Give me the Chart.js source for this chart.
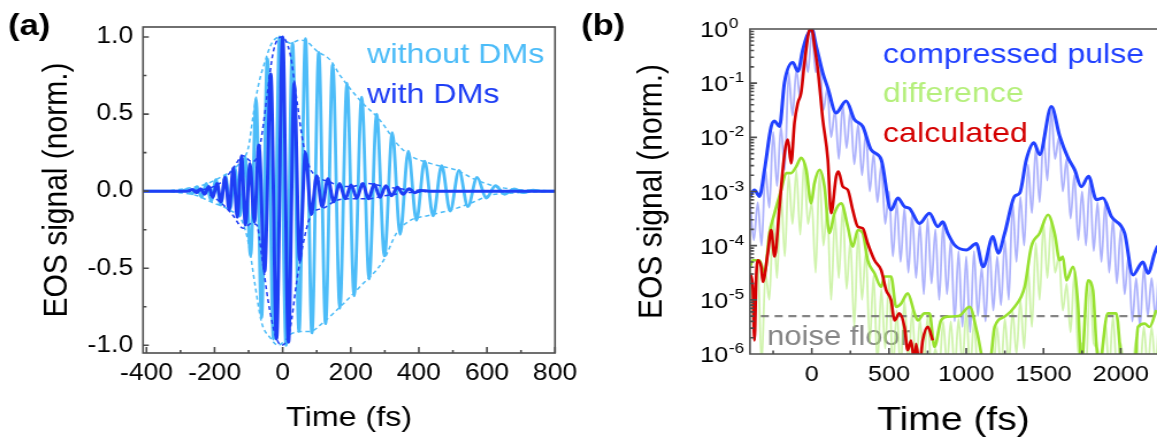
<!DOCTYPE html>
<html>
<head>
<meta charset="utf-8">
<title>EOS signal</title>
<script src="https://cdn.jsdelivr.net/npm/chart.js@4.4.1/dist/chart.umd.min.js"></script>
<style>
  html, body { margin: 0; padding: 0; background: #fff; }
  body { width: 1157px; height: 443px; position: relative; overflow: hidden; }
</style>
</head>
<body>
<canvas id="chartA" width="504" height="443" style="position:absolute;left:0;top:0;width:580px;height:443px"></canvas>
<canvas id="chartB" width="502" height="443" style="position:absolute;left:580px;top:0;width:577px;height:443px"></canvas>
<script>
const FONT = "'Liberation Sans', Arial, sans-serif";

// ---------- panel (a) ----------
const timeTicksA = [-400, -200, 0, 200, 400, 600, 800];
const signalTicksA = [-1, -0.5, 0, 0.5, 1];

// without DMs: extrema of the chirped trace
const noDmTime = [-410, -300, -280, -266, -252, -238, -224, -210, -196, -182, -168, -154,
  -140, -125, -110, -94, -78, -62, -45, -27, -9, 10, 29, 48, 67, 86, 106, 126, 147, 168, 189, 210,
  232, 254, 276, 299, 322, 345, 369, 393, 417, 442, 467, 492, 518, 544, 571, 598, 625, 652, 680, 708,
  736, 762, 800];
const noDmSignal = [0, 0, 0.012, -0.018, 0.03, -0.04, 0.05, -0.065, 0.075, -0.09, 0.1, -0.115,
  0.15, -0.16, 0.22, -0.42, 0.6, -0.82, 0.86, -0.96, 1.0, -1.0, 0.96, -0.91, 0.99, -0.92, 0.9, -0.86, 0.82, -0.76, 0.7, -0.68,
  0.61, -0.57, 0.5, -0.42, 0.38, -0.28, 0.26, -0.19, 0.195, -0.16, 0.165, -0.13, 0.135, -0.1, 0.09, -0.045, 0.035, -0.02, 0.015, -0.01,
  0.007, 0, 0];

// without DMs: dashed envelopes
const noDmUpperT = [-330, -250, -220, -200, -175, -150, -135, -120, -101, -86, -71, -52, -32, -7, 22, 51, 71,
  100, 140, 169, 227, 286, 335, 375, 433, 512, 561, 610, 659, 727, 800];
const noDmUpperV = [0.003, 0.03, 0.05, 0.07, 0.1, 0.13, 0.16, 0.2, 0.28, 0.5, 0.69, 0.84, 0.96, 1.0, 0.96, 0.98, 0.97,
  0.91, 0.85, 0.75, 0.59, 0.46, 0.31, 0.23, 0.18, 0.135, 0.08, 0.04, 0.017, 0.006, 0.002];
const noDmLowerT = [-330, -250, -220, -200, -175, -150, -135, -120, -101, -81, -62, -37, -13, 22, 51, 80,
  120, 169, 227, 296, 335, 375, 433, 512, 561, 610, 659, 727, 800];
const noDmLowerV = [-0.003, -0.03, -0.06, -0.08, -0.1, -0.13, -0.15, -0.19, -0.33, -0.61, -0.85, -0.95, -1.0, -0.93, -0.91, -0.91,
  -0.85, -0.75, -0.62, -0.45, -0.27, -0.19, -0.156, -0.11, -0.07, -0.026, -0.015, -0.006, -0.002];

// with DMs: extrema of the compressed trace
const dmTime = [-410, -280, -265, -253, -241, -229, -217, -205, -193, -181, -169, -157,
  -145, -133, -121, -109, -96, -83, -70, -53, -35, -18, 0, 17, 34, 50, 67, 84, 100, 116, 133, 150,
  167, 184, 201, 218, 235, 252, 269, 286, 303, 320, 337, 354, 371, 388, 405, 430, 800];
const dmSignal = [0, 0, 0.01, -0.01, 0.015, -0.02, 0.03, -0.04, 0.05, -0.07, 0.09, -0.12,
  0.15, -0.17, 0.23, -0.22, 0.18, -0.2, 0.3, -0.52, 0.76, -0.96, 1.0, -0.98, 0.7, -0.45, 0.25, -0.15, 0.1, -0.1, 0.08, -0.07,
  0.05, -0.05, 0.04, -0.045, 0.05, -0.05, 0.045, -0.04, 0.035, -0.03, 0.025, -0.02, 0.015, -0.01, 0.005, 0, 0];

// with DMs: dashed envelopes
const dmUpperT = [-260, -214, -174, -145, -116, -90, -72, -60, -47, -27, -3, 22, 41, 61, 80, 100, 139, 170, 200, 247, 300, 364, 420];
const dmUpperV = [0.005, 0.02, 0.07, 0.15, 0.23, 0.19, 0.24, 0.38, 0.6, 0.91, 1.0, 0.89, 0.6, 0.3, 0.15, 0.095, 0.06, 0.03, 0.03, 0.05, 0.03, 0.01, 0.003];
const dmLowerT = [-260, -214, -174, -145, -116, -91, -76, -62, -42, -22, -3, 22, 41, 66, 85, 120, 159, 200, 247, 300, 364, 420];
const dmLowerV = [-0.005, -0.024, -0.09, -0.16, -0.24, -0.21, -0.22, -0.41, -0.72, -0.93, -1.0, -0.89, -0.59, -0.28, -0.15, -0.11, -0.06, -0.05, -0.05, -0.03, -0.01, -0.003];

// ---------- panel (b) ----------
// values are log10 of the normalised signal
const timeTicksB = [0, 500, 1000, 1500, 2000];
const decadeExps = [0, -1, -2, -3, -4, -5, -6];

const pulseT = [-400, -371, -339, -306, -263, -241, -209, -177, -123, -90, -58, -30, 0, 28, 71, 104, 157, 222, 276, 330, 384,
  449, 513, 557, 600, 632, 697, 762, 816, 848, 880, 925, 1001, 1065, 1109, 1173, 1206, 1249, 1313, 1346, 1389,
  1438, 1475, 1551, 1605, 1659, 1702, 1745, 1792, 1842, 1885, 1939, 2025, 2079, 2144, 2176, 2220, 2240];
const pulseLog = [-3.09, -2.97, -3.09, -2.60, -1.80, -1.70, -1.80, -0.99, -0.62, -0.78, -0.38, -0.12, 0, -0.31, -0.81, -1.09, -1.55, -1.33, -1.67, -1.80, -2.23,
  -2.41, -3.34, -3.12, -3.28, -3.31, -3.59, -3.40, -3.65, -3.56, -3.77, -3.99, -4.08, -3.96, -4.39, -3.83, -4.14, -3.77, -3.09, -3.03, -2.41,
  -2.10, -2.32, -1.43, -1.98, -2.38, -2.60, -2.91, -2.72, -3.15, -3.12, -3.46, -3.77, -4.54, -4.30, -4.51, -4.14, -4.0];

const calcT = [-400, -382, -371, -360, -349, -328, -317, -285, -263, -241, -209, -181, -155, -134, -112, -90, -69, -47, -15, 0,
  17, 39, 71, 104, 125, 158, 173, 201, 233, 265, 298, 330, 362, 406, 449, 481, 514, 535, 567, 600,
  621, 643, 665, 675, 697, 718, 751, 783];
const calcLog = [-4.51, -4.76, -5.75, -4.6, -4.27, -4.39, -4.67, -4.14, -3.71, -4.20, -3.28, -2.41, -2.04, -2.48, -1.73, -1.36, -1.18, -0.62, -0.02, 0,
  -0.31, -0.75, -1.67, -2.41, -3.40, -2.72, -2.63, -2.91, -2.97, -3.34, -3.65, -3.68, -3.96, -4.27, -4.45, -4.82, -5.01, -5.38, -5.25, -5.50,
  -5.93, -5.75, -6.2, -5.81, -6.2, -5.75, -5.50, -5.75];

const diffT = [-400, -382, -339, -306, -274, -241, -198, -166, -134, -101, -69, -36, -4, 17, 50, 82, 114, 147, 190, 233,
  265, 298, 330, 362, 406, 449, 470, 513, 546, 578, 621, 665, 686, 729, 762, 794, 837, 880, 950, 1022,
  1070, 1120, 1150, 1184, 1249, 1313, 1378, 1421, 1475, 1529, 1572, 1605, 1625, 1648, 1691, 1723, 1745, 1788, 1820, 1842,
  1860, 1917, 1971, 2010, 2090, 2112, 2155, 2187, 2230];
const diffLog = [-4.39, -4.27, -4.27, -4.51, -3.77, -3.40, -2.97, -2.66, -2.66, -2.54, -2.38, -2.60, -3.22, -2.85, -2.60, -2.91, -3.77, -3.40, -3.22, -3.65,
  -4.02, -3.71, -3.77, -4.27, -4.51, -4.76, -4.57, -4.57, -5.13, -5.07, -4.88, -5.25, -5.38, -5.25, -5.25, -5.87, -5.38, -5.31, -5.3, -5.13,
  -5.6, -6.2, -6.2, -5.50, -5.31, -5.13, -4.76, -4.02, -3.77, -3.43, -3.77, -4.27, -4.20, -4.64, -4.39, -5.07, -6.2, -4.64, -4.82, -5.81,
  -6.2, -5.25, -5.25, -6.2, -6.2, -5.50, -5.44, -5.50, -5.19];

// raw (unsmoothed) traces, alternating fringe tops and dips
const rawT = [-400, -375, -350, -325, -300, -275, -250, -225, -200, -175, -150, -125, -100, -75, -50, -25,
  0, 25, 50, 75, 100, 125, 150, 175, 200, 225, 250, 275, 300, 325, 350, 375, 400, 425, 450, 475,
  500, 525, 550, 575, 600, 625, 650, 675, 700, 725, 750, 775, 800, 825, 850, 875, 900, 925, 950, 975,
  1000, 1025, 1050, 1075, 1100, 1125, 1150, 1175, 1200, 1225, 1250, 1275, 1300, 1325, 1350, 1375, 1400, 1425, 1450, 1475,
  1500, 1525, 1550, 1575, 1600, 1625, 1650, 1675, 1700, 1725, 1750, 1775, 1800, 1825, 1850, 1875, 1900, 1925, 1950, 1975,
  2000, 2025, 2050, 2075, 2100, 2125, 2150, 2175, 2200, 2225, 2250];
const rawPulseLog = [-3.2, -3.9, -3.2, -4.0, -2.6, -3.3, -1.9, -2.9, -1.8, -2.6,
  -0.8, -1.6, -0.75, -1.3, -0.35, -0.8, -0.05, -0.8, -0.6, -1.5,
  -1.1, -2.0, -1.5, -2.4, -1.4, -2.2, -1.5, -2.5, -1.75, -2.7,
  -1.9, -3.0, -2.3, -3.2, -2.5, -3.6, -3.0, -4.2, -3.2, -4.3,
  -3.3, -4.5, -3.4, -4.6, -3.6, -4.9, -3.5, -4.7, -3.7, -5.0,
  -3.6, -4.9, -3.9, -5.4, -4.1, -5.5, -4.2, -5.6, -4.1, -5.3,
  -4.4, -5.4, -4.0, -5.2, -4.2, -5.1, -3.9, -5.0, -3.2, -4.3,
  -3.1, -4.0, -2.5, -3.4, -2.2, -3.2, -2.0, -2.8, -1.5, -2.4,
  -2.0, -3.0, -2.4, -3.5, -2.7, -3.9, -3.0, -4.0, -2.8, -4.1,
  -3.2, -4.3, -3.2, -4.5, -3.5, -4.7, -3.7, -4.9, -4.2, -5.4,
  -4.6, -5.5, -4.4, -5.3, -4.6, -5.3, -4.2];
const rawDiffLog = [-4.4, -5.5, -4.3, -6.2, -4.5, -5.0, -3.5, -4.6, -3.0, -4.2,
  -2.7, -3.6, -2.6, -3.8, -2.45, -3.6, -3.2, -4.5, -2.65, -4.0,
  -3.3, -5.0, -3.45, -4.6, -3.3, -4.8, -3.9, -5.5, -3.75, -5.0,
  -4.1, -5.8, -4.55, -6.2, -4.8, -5.9, -4.6, -6.3, -5.2, -6.3,
  -5.0, -6.2, -5.2, -6.3, -5.35, -6.2, -5.3, -6.3, -5.9, -6.3,
  -5.4, -6.2, -5.4, -6.3, -5.35, -6.2, -5.2, -6.3, -5.4, -6.3,
  -6.1, -6.3, -6.1, -6.3, -5.5, -6.3, -5.35, -6.2, -5.2, -6.0,
  -5.0, -5.9, -4.4, -5.5, -3.95, -5.0, -3.6, -4.6, -3.55, -4.5,
  -4.2, -5.2, -4.7, -5.6, -4.5, -6.0, -5.8, -6.3, -4.7, -5.8,
  -5.9, -6.3, -5.4, -6.3, -5.3, -6.3, -5.8, -6.3, -6.2, -6.3,
  -5.7, -6.3, -5.5, -6.3, -5.5, -6.2, -5.2];

const noiseFloor = 5e-6;
const noiseSpan = [-330, 2235];

// ---------- helpers ----------
const pts = (xs, ys) => xs.map((x, i) => ({ x, y: ys[i] }));
const ptsLog = (xs, es) => xs.map((x, i) => ({ x, y: Math.pow(10, es[i]) }));

const LIGHT = '#4cbcf8';
const DARK = '#1e3ef5';
const BLUE = '#2141ff';
const GREEN = '#97e12f';
const RED = '#d40000';

function line(label, data, color, width, order, dash) {
  return {
    label, data, order,
    borderColor: color, borderWidth: width,
    borderDash: dash || [],
    pointRadius: 0, fill: false,
    cubicInterpolationMode: 'monotone',
    borderJoinStyle: 'round', borderCapStyle: 'butt'
  };
}

function text(ctx, str, x, y, size, color, bold, align) {
  ctx.font = (bold ? 'bold ' : '') + size + 'px ' + FONT;
  ctx.fillStyle = color;
  ctx.textAlign = align || 'left';
  ctx.textBaseline = 'alphabetic';
  ctx.fillText(str, x, y);
}

// ---------- panel (a) decorations ----------
const panelA = {
  id: 'panelA',
  beforeDatasetsDraw(chart) {
    const ctx = chart.ctx;
    ctx.save();
    text(ctx, '(a)', 7, 35, 30, '#000', true);
    text(ctx, 'without DMs', 319, 63, 28, LIGHT);
    text(ctx, 'with DMs', 319, 103, 28, DARK);
    ctx.restore();
  },
  afterDatasetsDraw(chart) {
    const { ctx, chartArea: a, scales: { x, y } } = chart;
    ctx.save();
    ctx.strokeStyle = '#4d4d4d';
    ctx.lineWidth = 1.6;
    ctx.strokeRect(a.left, a.top, a.right - a.left, a.bottom - a.top);
    ctx.beginPath();
    for (let v = -400; v <= 800; v += 100) {
      const px = x.getPixelForValue(v);
      const len = v % 200 === 0 ? 6 : 3;
      ctx.moveTo(px, a.bottom); ctx.lineTo(px, a.bottom - len);
    }
    for (let v = -1; v <= 1.001; v += 0.25) {
      const py = y.getPixelForValue(v);
      const len = Math.abs(v * 2 - Math.round(v * 2)) < 1e-6 ? 5 : 3;
      ctx.moveTo(a.left, py); ctx.lineTo(a.left + len, py);
    }
    ctx.stroke();
    ctx.restore();
  }
};

new Chart(document.getElementById('chartA'), {
  type: 'line',
  data: {
    datasets: [
      line('without DMs', pts(noDmTime, noDmSignal), LIGHT, 2.8, 5),
      line('without DMs upper envelope', pts(noDmUpperT, noDmUpperV), LIGHT, 1.5, 4, [4, 3]),
      line('without DMs lower envelope', pts(noDmLowerT, noDmLowerV), LIGHT, 1.5, 4, [4, 3]),
      line('with DMs', pts(dmTime, dmSignal), DARK, 3, 3),
      line('with DMs upper envelope', pts(dmUpperT, dmUpperV), DARK, 1.5, 2, [4, 3]),
      line('with DMs lower envelope', pts(dmLowerT, dmLowerV), DARK, 1.5, 2, [4, 3])
    ]
  },
  options: {
    responsive: false,
    animation: false,
    devicePixelRatio: 1,
    layout: { padding: { left: 0, right: 21.7, top: 27, bottom: 0 } },
    plugins: { legend: { display: false }, tooltip: { enabled: false } },
    scales: {
      x: {
        type: 'linear', min: -410, max: 800,
        afterBuildTicks: s => { s.ticks = timeTicksA.map(v => ({ value: v })); },
        afterFit: s => { s.height = 90; s.paddingLeft = 0; s.paddingRight = 0; },
        grid: { display: false, drawTicks: false },
        border: { display: false },
        ticks: {
          color: '#000', padding: 7, maxRotation: 0, autoSkip: false,
          font: { family: FONT, size: 23 },
          callback: v => String(v)
        },
        title: {
          display: true, text: 'Time (fs)', color: '#000',
          font: { family: FONT, size: 28 }, padding: { top: 0, bottom: 8 }
        }
      },
      y: {
        type: 'linear', min: -1.05, max: 1.065,
        afterBuildTicks: s => { s.ticks = signalTicksA.map(v => ({ value: v })); },
        afterFit: s => { s.width = 124.3; s.paddingTop = 0; s.paddingBottom = 0; },
        grid: { display: false, drawTicks: false },
        border: { display: false },
        ticks: {
          color: '#000', padding: 8.6, autoSkip: false,
          font: { family: FONT, size: 23 },
          callback: v => v.toFixed(1)
        },
        title: {
          display: true, text: 'EOS signal (norm.)', color: '#000',
          font: { family: FONT, size: 30 }, padding: { top: 31.6, bottom: 0 }
        }
      }
    }
  },
  plugins: [panelA]
});

// ---------- panel (b) decorations ----------
const panelB = {
  id: 'panelB',
  beforeDatasetsDraw(chart) {
    const ctx = chart.ctx;
    ctx.save();
    text(ctx, '(b)', 1, 35, 30, '#000', true);
    text(ctx, 'compressed pulse', 263.6, 63, 28, BLUE);
    text(ctx, 'difference', 263.6, 102, 28, '#b5ef7c');
    text(ctx, 'calculated', 263.6, 142, 28, RED);
    text(ctx, 'noise floor', 162.7, 345, 27, '#858585');
    ctx.restore();
  },
  afterDatasetsDraw(chart) {
    const { ctx, chartArea: a, scales: { x, y } } = chart;
    ctx.save();
    ctx.strokeStyle = '#4d4d4d';
    ctx.lineWidth = 1.6;
    ctx.beginPath();
    ctx.moveTo(a.right, a.top); ctx.lineTo(a.left, a.top);
    ctx.lineTo(a.left, a.bottom); ctx.lineTo(a.right, a.bottom);
    for (let v = -250; v <= 2000; v += 250) {
      const px = x.getPixelForValue(v);
      const len = v % 500 === 0 ? 6 : 3.5;
      ctx.moveTo(px, a.bottom); ctx.lineTo(px, a.bottom - len);
    }
    for (const e of decadeExps) {
      const py = y.getPixelForValue(Math.pow(10, e));
      ctx.moveTo(a.left, py); ctx.lineTo(a.left + 6, py);
      if (e < 0) {
        for (let m = 2; m <= 9; m++) {
          const pm = y.getPixelForValue(m * Math.pow(10, e));
          ctx.moveTo(a.left, pm); ctx.lineTo(a.left + 3.5, pm);
        }
      }
    }
    ctx.stroke();
    // decade labels with superscript exponents
    for (const e of decadeExps) {
      const py = y.getPixelForValue(Math.pow(10, e));
      text(ctx, '10', 129, py + 8, 22, '#000', false, 'right');
      text(ctx, String(e), 129.5, py - 1, 15, '#000', false, 'left');
    }
    ctx.restore();
  }
};

new Chart(document.getElementById('chartB'), {
  type: 'line',
  data: {
    datasets: [
      line('compressed pulse (raw)', ptsLog(rawT, rawPulseLog), 'rgba(105,115,250,0.55)', 1.8, 7),
      line('difference (raw)', ptsLog(rawT, rawDiffLog), 'rgba(175,235,115,0.6)', 1.8, 6),
      line('noise floor', noiseSpan.map(t => ({ x: t, y: noiseFloor })), 'rgba(110,110,110,0.85)', 2.2, 5, [7, 5]),
      line('compressed pulse', ptsLog(pulseT, pulseLog), BLUE, 3, 4),
      line('difference', ptsLog(diffT, diffLog), GREEN, 2.6, 3),
      line('calculated', ptsLog(calcT, calcLog), RED, 2.6, 2)
    ]
  },
  options: {
    responsive: false,
    animation: false,
    devicePixelRatio: 1,
    layout: { padding: { left: 0, right: 0, top: 29, bottom: 0 } },
    plugins: { legend: { display: false }, tooltip: { enabled: false } },
    scales: {
      x: {
        type: 'linear', min: -400, max: 2235,
        afterBuildTicks: s => { s.ticks = timeTicksB.map(v => ({ value: v })); },
        afterFit: s => { s.height = 89; s.paddingLeft = 0; s.paddingRight = 0; },
        grid: { display: false, drawTicks: false },
        border: { display: false },
        ticks: {
          color: '#000', padding: 8, maxRotation: 0, autoSkip: false,
          font: { family: FONT, size: 22 },
          callback: v => String(v)
        },
        title: {
          display: true, text: 'Time (fs)', color: '#000',
          font: { family: FONT, size: 34 }, padding: { top: 0, bottom: 2 }
        }
      },
      y: {
        type: 'logarithmic', min: 1e-6, max: 1,
        afterFit: s => { s.width = 147.9; s.paddingTop = 0; s.paddingBottom = 0; },
        grid: { display: false, drawTicks: false },
        border: { display: false },
        ticks: { display: false },
        title: {
          display: true, text: 'EOS signal (norm.)', color: '#000',
          font: { family: FONT, size: 30 }, padding: { top: 44.6, bottom: 0 }
        }
      }
    }
  },
  plugins: [panelB]
});
</script>
</body>
</html>
